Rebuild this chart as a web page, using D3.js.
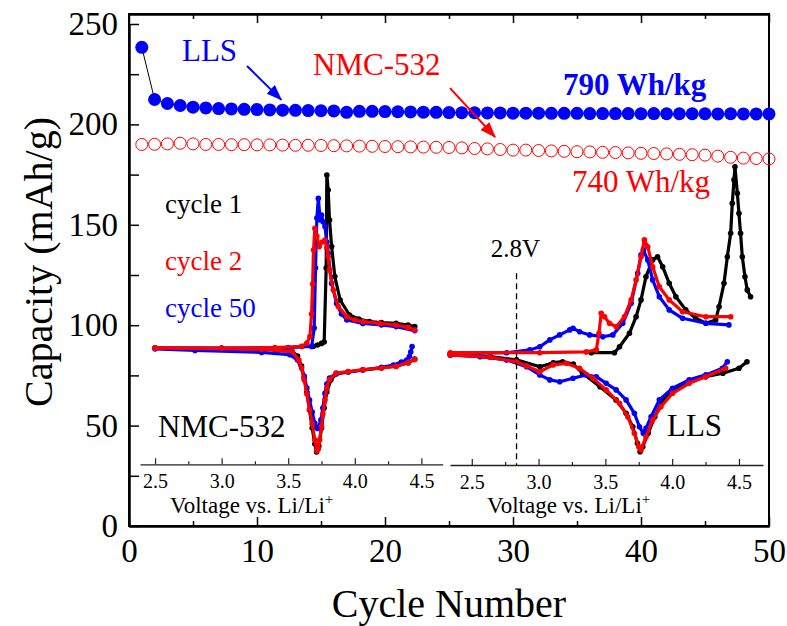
<!DOCTYPE html>
<html>
<head>
<meta charset="utf-8">
<script src="https://cdn.jsdelivr.net/npm/d3@7"></script>
<style>
	body { margin:0; background:#fff; }
	svg text { font-family:"Liberation Serif","Times New Roman",serif; }
</style>
</head>
<body>
<svg id="chart" width="787" height="626"></svg>
<script>
// cycle data (main plot)
var cycles = [1,2,3,4,5,6,7,8,9,10,11,12,13,14,15,16,17,18,19,20,21,22,23,24,25,
	26,27,28,29,30,31,32,33,34,35,36,37,38,39,40,41,42,43,44,45,46,47,48,49,50];
var llsCapacity = [238.4,212.4,210.4,209.4,208.6,208.2,207.9,207.7,207.5,207.4,207.2,207.1,207.0,206.9,206.8,206.7,206.0,206.5,206.5,206.4,
	206.3,206.2,206.1,206.0,205.9,205.8,205.8,205.7,205.7,205.6,205.6,205.6,205.5,205.5,205.5,205.4,205.4,205.4,205.4,205.3,
	205.4,205.3,205.3,205.3,205.3,205.2,205.3,205.2,205.2,205.2];
var nmcCapacity = [190.0,190.1,190.3,190.6,190.3,190.0,190.0,189.9,189.9,189.8,189.8,189.7,189.6,189.6,189.5,189.4,189.3,189.2,189.1,189.0,
	188.9,188.8,188.7,188.6,188.5,188.3,188.0,187.8,187.5,187.2,187.2,187.0,186.8,186.6,186.4,186.3,186.1,186.0,185.8,185.6,
	185.5,185.3,185.1,184.9,184.7,184.2,183.6,183.2,183.0,182.8];
var xMajor = [0,10,20,30,40,50];
var xMinor = [5,15,25,35,45];
var yMajor = [0,50,100,150,200,250];
var yMinor = [25,75,125,175,225];

// dQ/dV insets: [voltage, dQ/dV a.u.]
var nmcC1Charge = [[3.69,0.9],[3.72,1.5],[3.75,2.3],[3.77,3],[3.785,40],[3.79,86.5],[3.80,79],[3.81,64],[3.826,50.7],[3.85,35.7],
	[3.89,24],[3.96,16.5],[4.03,14.5],[4.11,13.2],[4.2,12.7],[4.31,12.3],[4.4,11.5],[4.45,10.7]];
var nmcC1Discharge = [[4.45,-5.5],[4.4,-7.5],[4.31,-9],[4.2,-10],[4.06,-11],[3.95,-12],[3.86,-13],[3.82,-16],[3.79,-22],[3.77,-30],
	[3.75,-40],[3.73,-49],[3.713,-52],[3.70,-48],[3.68,-40],[3.66,-31],[3.64,-22],[3.62,-15],[3.60,-9],[3.57,-4],[3.53,-1.8],
	[3.4,-0.8],[3.0,-0.2],[2.5,0]];
var nmcC2Charge = [[2.5,0],[3.0,0],[3.4,0.2],[3.6,0.8],[3.64,2.5],[3.663,5.7],[3.675,17],[3.683,32],[3.69,49],[3.70,59.8],
	[3.715,56],[3.733,50.7],[3.755,53],[3.776,54],[3.79,50],[3.80,45.7],[3.81,39],[3.838,29],[3.876,20.7],[3.94,15.7],[4.0,14],
	[4.063,13.2],[4.19,12.3],[4.31,11.5],[4.4,10.3],[4.45,9]];
var nmcC2Discharge = [[4.45,-5.8],[4.4,-7.2],[4.31,-9.2],[4.2,-10],[4.06,-10.8],[3.95,-11.8],[3.86,-12.5],[3.81,-15.8],[3.79,-20],
	[3.776,-26],[3.76,-33],[3.75,-39.3],[3.736,-46],[3.726,-50.5],[3.715,-51.5],[3.70,-46],[3.68,-38],[3.66,-31],[3.64,-23],
	[3.62,-16],[3.60,-10],[3.58,-6],[3.53,-1.8],[3.3,-0.6],[2.5,0]];
var nmcC50Charge = [[2.5,0],[3.0,0],[3.5,0.2],[3.676,0.8],[3.695,10],[3.705,40],[3.715,65],[3.726,74.8],[3.74,64],[3.75,66.5],
	[3.763,63],[3.776,60.7],[3.79,53],[3.80,47.3],[3.826,32.3],[3.863,22.3],[3.9,17],[3.94,14],[4.06,12.3],[4.2,11.5],
	[4.31,10.7],[4.45,8.7]];
var nmcC50Discharge = [[4.43,0.7],[4.42,-2],[4.41,-4.3],[4.39,-6],[4.35,-7],[4.29,-8.5],[4.2,-9.7],[4.06,-11],[3.95,-12],
	[3.86,-12.7],[3.81,-15],[3.79,-18],[3.776,-22.7],[3.76,-30],[3.745,-36],[3.73,-39.5],[3.72,-40.2],[3.70,-37.7],[3.68,-32],
	[3.66,-26],[3.64,-20],[3.62,-14],[3.57,-6],[3.51,-3.3],[3.3,-2.2],[2.8,-1.2],[2.5,-0.5]];

var llsC1Charge = [[3.394,0.3],[3.568,0.3],[3.606,3.3],[3.68,10],[3.73,18.3],[3.767,26.7],[3.804,38.3],[3.854,46.7],[3.891,48.3],
	[3.929,43.3],[3.978,35],[4.028,28.3],[4.102,21.7],[4.177,17.5],[4.252,15],[4.326,16.7],[4.351,23.3],[4.388,35],[4.413,48.3],
	[4.438,60],[4.45,75],[4.463,86.7],[4.47,93.3],[4.488,80],[4.5,70],[4.512,60],[4.525,48.3],[4.545,38.3],[4.562,31.7],[4.587,28.3]];
var llsC1Discharge = [[4.56,-4.2],[4.5,-7.5],[4.38,-10],[4.25,-11.7],[4.13,-14.2],[4.0,-18.3],[3.93,-23.3],[3.87,-31.7],[3.82,-40],
	[3.78,-46.7],[3.76,-49.2],[3.74,-45],[3.705,-36.7],[3.655,-30],[3.58,-23.3],[3.46,-16.7],[3.33,-10],[3.26,-5.4],[3.18,-4.2],
	[3.11,-4.7],[3.01,-6.7],[2.835,-3.3],[2.64,-1.7],[2.34,-0.8]];
var llsC2Charge = [[2.339,0.3],[3.009,0.3],[3.357,0.7],[3.432,1.7],[3.452,10],[3.469,20],[3.494,18.3],[3.531,15],[3.581,13.3],
	[3.643,18.3],[3.693,26.7],[3.73,36.7],[3.767,48.3],[3.792,56.7],[3.817,53.3],[3.854,43.3],[3.904,33.3],[3.978,26.7],
	[4.078,20.8],[4.252,18.3],[4.438,18.3]];
var llsC2Discharge = [[4.40,-7.5],[4.25,-11.7],[4.127,-15],[4.003,-20],[3.916,-26.7],[3.854,-33.3],[3.804,-41.7],[3.767,-48.3],
	[3.75,-46.7],[3.717,-40],[3.668,-31.7],[3.606,-25],[3.506,-18.3],[3.407,-12.5],[3.307,-7.5],[3.208,-5],[3.109,-5.8],
	[3.009,-9.2],[2.91,-6.3],[2.835,-4.2],[2.637,-2],[2.339,-0.8]];
var llsC50Charge = [[2.339,0],[2.761,0.3],[2.935,1.7],[3.009,3.3],[3.084,6.7],[3.158,9.2],[3.233,11.7],[3.258,12.5],[3.307,10.8],
	[3.382,9.2],[3.481,8.3],[3.556,9.2],[3.63,15],[3.693,25],[3.742,40],[3.767,49.2],[3.784,51.7],[3.817,46.7],[3.854,36.7],
	[3.904,28.3],[3.978,21.7],[4.078,17.5],[4.252,15],[4.425,14.2]];
var llsC50Discharge = [[4.413,-4.2],[4.376,-7.5],[4.252,-10.8],[4.127,-13.3],[4.003,-17.5],[3.904,-23.3],[3.842,-31.7],[3.804,-37.5],
	[3.784,-40],[3.755,-36.7],[3.717,-30],[3.655,-23.3],[3.581,-18.3],[3.506,-15],[3.432,-11.7],[3.357,-10.8],[3.258,-12.5],
	[3.158,-14.2],[3.084,-13.3],[3.009,-10.8],[2.91,-6.7],[2.761,-3.3],[2.562,-1.7],[2.339,-0.8]];
var insetTicks = [2.5,3.0,3.5,4.0,4.5];
var insetMinor = [2.75,3.25,3.75,4.25];
var cutoffVoltage = 2.835;

var svg = d3.select("#chart");
var BLUE = "#0000ff", RED = "#ff0000";

var x = d3.scaleLinear().domain([0,50]).range([129,769]);
var y = d3.scaleLinear().domain([0,250]).range([526,24]);
var xL = d3.scaleLinear().domain([2.387,4.66]).range([140,442.7]);
var yL = d3.scaleLinear().domain([0,100]).range([348,148]);
var xR = d3.scaleLinear().domain([2.337,4.68]).range([450,763]);
var yR = d3.scaleLinear().domain([0,100]).range([353.3,153.3]);

// arrow heads
var defs = svg.append("defs");
[["arrowBlue",BLUE],["arrowRed",RED]].forEach(function(a){
	defs.append("marker").attr("id",a[0]).attr("markerUnits","userSpaceOnUse")
		.attr("markerWidth",16).attr("markerHeight",12).attr("refX",15).attr("refY",6)
		.attr("orient","auto")
		.append("path").attr("d","M0,0 L16,6 L0,12 Z").attr("fill",a[1]);
});

// ---- main axes
function styleAxis(g, fontSize) {
	g.select(".domain").attr("stroke","#000").attr("stroke-width",2);
	g.selectAll(".tick line").attr("stroke","#000").attr("stroke-width",1.5);
	g.selectAll(".tick text").attr("fill","#000").attr("font-size",fontSize)
		.attr("font-family","Liberation Serif, Times New Roman, serif");
}
var gx = svg.append("g").attr("transform","translate(0,526)")
	.call(d3.axisBottom(x).tickValues(xMajor).tickSize(-9).tickSizeOuter(0).tickPadding(13));
styleAxis(gx,33);
var gxm = svg.append("g").attr("transform","translate(0,526)")
	.call(d3.axisBottom(x).tickValues(xMinor).tickSize(-5).tickSizeOuter(0).tickFormat(""));
styleAxis(gxm,33);
var gt = svg.append("g").attr("transform","translate(0,14)")
	.call(d3.axisTop(x).tickValues(xMajor).tickSize(-9).tickSizeOuter(0).tickFormat(""));
styleAxis(gt,33);
var gtm = svg.append("g").attr("transform","translate(0,14)")
	.call(d3.axisTop(x).tickValues(xMinor).tickSize(-5).tickSizeOuter(0).tickFormat(""));
styleAxis(gtm,33);
var gy = svg.append("g").attr("transform","translate(129,0)")
	.call(d3.axisLeft(y).tickValues(yMajor).tickSize(-10).tickSizeOuter(0).tickPadding(11));
styleAxis(gy,33);
var gym = svg.append("g").attr("transform","translate(129,0)")
	.call(d3.axisLeft(y).tickValues(yMinor).tickSize(-10).tickSizeOuter(0).tickFormat(""));
styleAxis(gym,33);
// frame
svg.append("rect").attr("x",129).attr("y",14).attr("width",640).attr("height",512)
	.attr("fill","none").attr("stroke","#000").attr("stroke-width",2);

svg.append("text").attr("x",449).attr("y",617).attr("text-anchor","middle")
	.attr("font-size",40).text("Cycle Number");
svg.append("text").attr("transform","translate(52,262) rotate(-90)").attr("text-anchor","middle")
	.attr("font-size",40).text("Capacity (mAh/g)");

// ---- insets
function insetAxis(xs, yPos) {
	var g = svg.append("g").attr("transform","translate(0,"+yPos+")")
		.call(d3.axisBottom(xs).tickValues(insetTicks).tickSize(-6).tickSizeOuter(0).tickPadding(9.5).tickFormat(d3.format(".1f")));
	g.select(".domain").attr("stroke","#222").attr("stroke-width",1.3);
	g.selectAll(".tick line").attr("stroke","#222").attr("stroke-width",1.2);
	g.selectAll(".tick text").attr("fill","#000").attr("font-size",20)
		.attr("font-family","Liberation Serif, Times New Roman, serif");
	var gm = svg.append("g").attr("transform","translate(0,"+yPos+")")
		.call(d3.axisBottom(xs).tickValues(insetMinor).tickSize(-3).tickSizeOuter(0).tickFormat(""));
	gm.select(".domain").remove();
	gm.selectAll(".tick line").attr("stroke","#222").attr("stroke-width",1.2);
}
function voltLabel(xPos) {
	var t = svg.append("text").attr("x",xPos).attr("y",513).attr("font-size",23);
	t.append("tspan").text("Voltage vs. Li/Li");
	t.append("tspan").attr("dy",-9).attr("font-size",15).text("+");
}
function drawCurve(xs, ys, pts, color) {
	var line = d3.line().x(function(d){ return xs(d[0]); }).y(function(d){ return ys(d[1]); });
	svg.append("path").datum(pts).attr("d",line).attr("fill","none")
		.attr("stroke",color).attr("stroke-width",3.2).attr("stroke-linejoin","round");
	svg.append("g").selectAll("circle").data(pts).enter().append("circle")
		.attr("cx",function(d){ return xs(d[0]); }).attr("cy",function(d){ return ys(d[1]); })
		.attr("r",2.8).attr("fill",color);
}

insetAxis(xL, 464.3);
insetAxis(xR, 465);
voltLabel(170);
voltLabel(487);

drawCurve(xL,yL,nmcC1Charge,"#000");
drawCurve(xL,yL,nmcC1Discharge,"#000");
drawCurve(xL,yL,nmcC50Charge,BLUE);
drawCurve(xL,yL,nmcC50Discharge,BLUE);
drawCurve(xL,yL,nmcC2Charge,RED);
drawCurve(xL,yL,nmcC2Discharge,RED);

drawCurve(xR,yR,llsC1Charge,"#000");
drawCurve(xR,yR,llsC1Discharge,"#000");
drawCurve(xR,yR,llsC50Charge,BLUE);
drawCurve(xR,yR,llsC50Discharge,BLUE);
drawCurve(xR,yR,llsC2Charge,RED);
drawCurve(xR,yR,llsC2Discharge,RED);

// 2.8 V cut-off marker
svg.append("line").attr("x1",xR(cutoffVoltage)).attr("x2",xR(cutoffVoltage))
	.attr("y1",yR(40)).attr("y2",465).attr("stroke","#000").attr("stroke-width",1.3)
	.attr("stroke-dasharray","6,4");
svg.append("text").attr("x",xR(cutoffVoltage)-1).attr("y",257).attr("text-anchor","middle")
	.attr("font-size",25).text("2.8V");

svg.append("text").attr("x",165).attr("y",213).attr("font-size",27).attr("fill","#000").text("cycle 1");
svg.append("text").attr("x",165).attr("y",270).attr("font-size",27).attr("fill",RED).text("cycle 2");
svg.append("text").attr("x",165).attr("y",317).attr("font-size",27).attr("fill",BLUE).text("cycle 50");
svg.append("text").attr("x",158).attr("y",437).attr("font-size",31).attr("fill","#000").text("NMC-532");
svg.append("text").attr("x",667).attr("y",436).attr("font-size",31).attr("fill","#000").text("LLS");

// ---- main series
var llsData = cycles.map(function(c,i){ return [c, llsCapacity[i]]; });
var nmcData = cycles.map(function(c,i){ return [c, nmcCapacity[i]]; });

svg.append("path").datum(llsData)
	.attr("d",d3.line().x(function(d){ return x(d[0]); }).y(function(d){ return y(d[1]); }))
	.attr("fill","none").attr("stroke","#000").attr("stroke-width",1);

svg.append("g").selectAll("circle").data(nmcData).enter().append("circle")
	.attr("cx",function(d){ return x(d[0]); }).attr("cy",function(d){ return y(d[1]); })
	.attr("r",6).attr("fill","none").attr("stroke",RED).attr("stroke-width",1);
svg.append("g").selectAll("circle").data(llsData).enter().append("circle")
	.attr("cx",function(d){ return x(d[0]); }).attr("cy",function(d){ return y(d[1]); })
	.attr("r",6.5).attr("fill",BLUE);

// annotations
svg.append("text").attr("x",182).attr("y",61).attr("font-size",31).attr("fill",BLUE).text("LLS");
svg.append("text").attr("x",313).attr("y",75).attr("font-size",31).attr("fill",RED).text("NMC-532");
svg.append("text").attr("x",563).attr("y",95).attr("font-size",31).attr("font-weight","bold")
	.attr("fill",BLUE).text("790 Wh/kg");
svg.append("text").attr("x",572).attr("y",192).attr("font-size",31).attr("fill",RED).text("740 Wh/kg");

svg.append("line").attr("x1",x(9.22)).attr("y1",y(229.1)).attr("x2",x(11.9)).attr("y2",y(212.2))
	.attr("stroke",BLUE).attr("stroke-width",2).attr("marker-end","url(#arrowBlue)");
svg.append("line").attr("x1",x(25.08)).attr("y1",y(218.1)).attr("x2",x(28.6)).attr("y2",y(193.7))
	.attr("stroke",RED).attr("stroke-width",2).attr("marker-end","url(#arrowRed)");
</script>
</body>
</html>
